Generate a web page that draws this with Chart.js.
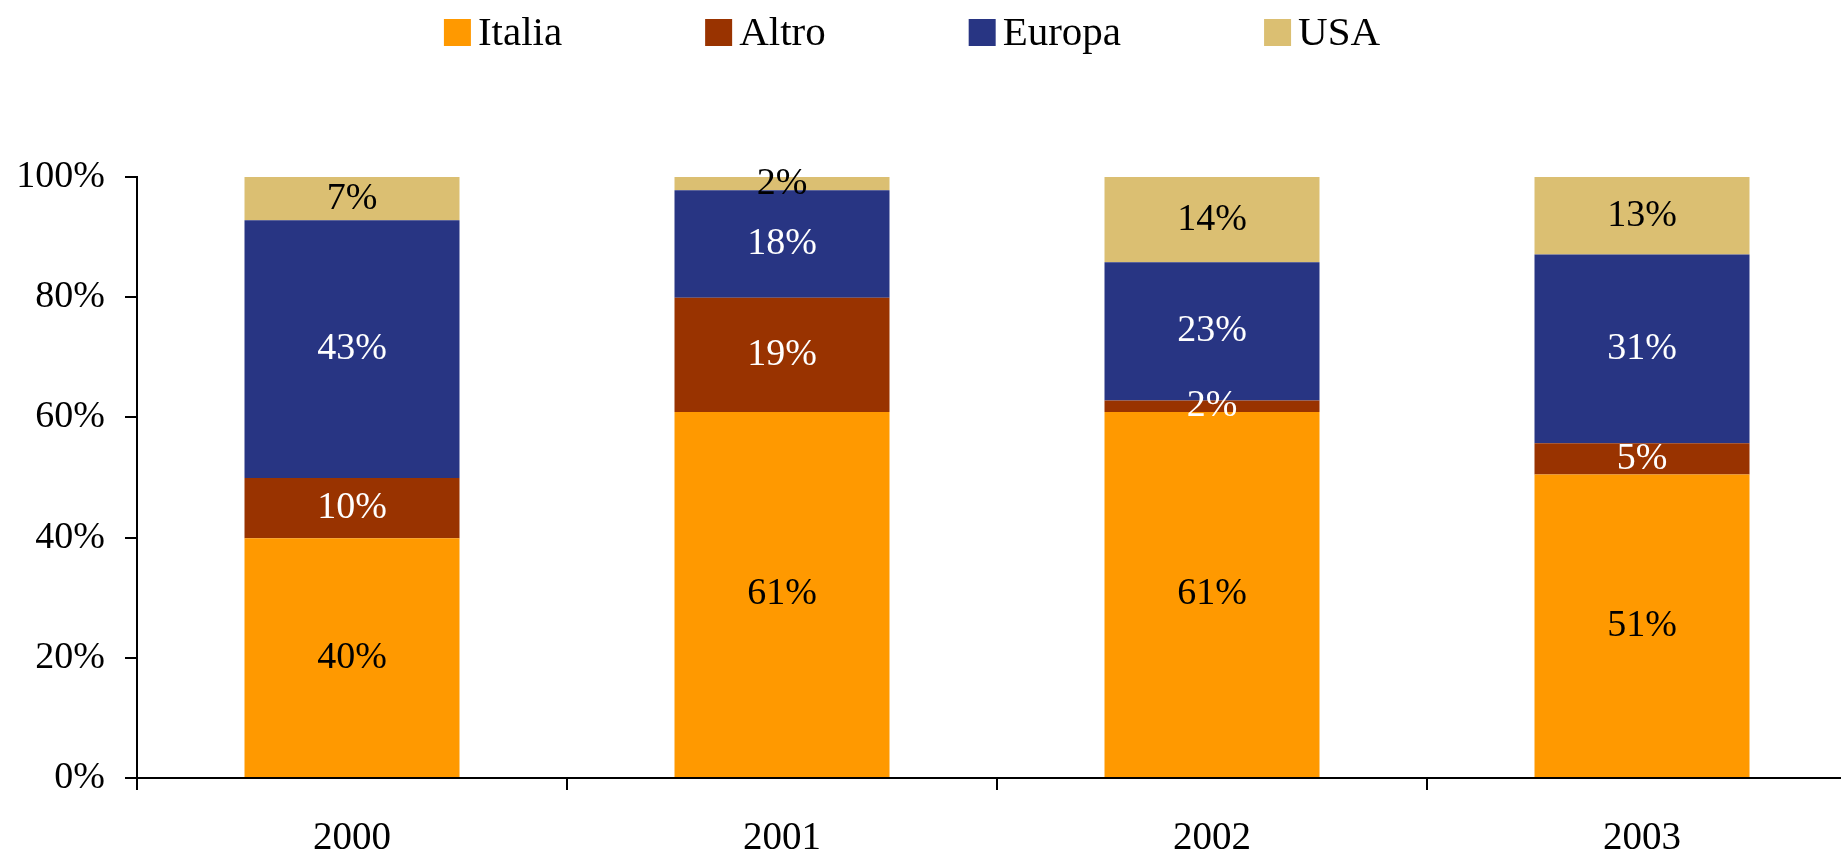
<!DOCTYPE html>
<html>
<head>
<meta charset="utf-8">
<script src="https://cdn.jsdelivr.net/npm/chart.js@4.4.0/dist/chart.umd.min.js"></script>
<style>
html, body { margin: 0; padding: 0; background: #fff; overflow: hidden; }
#wrap { width: 1860px; height: 855px; }
</style>
</head>
<body>
<div id="wrap"><canvas id="grafico" width="1860" height="855"></canvas></div>
<script>
const anni = ["2000", "2001", "2002", "2003"];
const italia = [39.9, 60.9, 60.9, 50.5];
const altro = [10.0, 19.0, 1.9, 5.2];
const europa = [42.9, 17.9, 23.0, 31.4];
const usa = [7.2, 2.2, 14.2, 12.9];
const yTicks = [0, 20, 40, 60, 80, 100];

const serie = ["Italia", "Altro", "Europa", "USA"];
const colori = ["#FF9900", "#993300", "#283583", "#DBBF72"];
const coloriTesto = ["#000", "#fff", "#fff", "#000"];
const valori = [italia, altro, europa, usa];

const FONT = "'Liberation Serif', 'Times New Roman', serif";

// legenda disegnata a mano: quadratino + testo vicino
const legenda = {
    id: "legenda",
    afterDraw(chart) {
        const ctx = chart.ctx;
        ctx.save();
        ctx.font = "41px " + FONT;
        const items = chart.data.datasets.map(ds => ({
            label: ds.label,
            color: ds.backgroundColor,
            w: 27 + 7 + ctx.measureText(ds.label).width
        }));
        const gap = 143;
        const total = items.reduce((s, it) => s + it.w, 0) + gap * (items.length - 1);
        let x = 912 - total / 2;
        ctx.textBaseline = "alphabetic";
        items.forEach(it => {
            ctx.fillStyle = it.color;
            ctx.fillRect(x, 19, 27, 27);
            ctx.fillStyle = "#000";
            ctx.fillText(it.label, x + 34, 44.5);
            x += it.w + gap;
        });
        ctx.restore();
    }
};

// etichette percentuali al centro di ogni segmento
const etichette = {
    id: "etichette",
    afterDatasetsDraw(chart) {
        const ctx = chart.ctx;
        ctx.save();
        ctx.font = "38px " + FONT;
        ctx.textAlign = "center";
        ctx.textBaseline = "middle";
        chart.data.datasets.forEach((ds, i) => {
            chart.getDatasetMeta(i).data.forEach((bar, j) => {
                ctx.fillStyle = coloriTesto[i];
                ctx.fillText(Math.round(ds.data[j]) + "%", bar.x, (bar.y + bar.base) / 2);
            });
        });
        ctx.restore();
    }
};

const ctx = document.getElementById("grafico");

new Chart(ctx, {
    type: "bar",
    data: {
        labels: anni,
        datasets: serie.map((nome, i) => ({
            label: nome,
            data: valori[i],
            backgroundColor: colori[i],
            borderWidth: 0,
            barPercentage: 0.5,
            categoryPercentage: 1.0
        }))
    },
    options: {
        responsive: false,
        animation: false,
        layout: { padding: { top: 177, left: 16, right: 3, bottom: 0 } },
        plugins: {
            legend: { display: false },
            tooltip: { enabled: false }
        },
        scales: {
            x: {
                stacked: true,
                afterFit: axis => { axis.height = 77; },
                grid: { drawOnChartArea: false, color: "#000", lineWidth: 2, tickLength: 12, offset: true },
                border: { color: "#000", width: 2 },
                ticks: { color: "#000", padding: 29, font: { family: FONT, size: 39, lineHeight: 1 } }
            },
            y: {
                stacked: true,
                min: 0,
                max: 100,
                afterBuildTicks: axis => { axis.ticks = yTicks.map(v => ({ value: v })); },
                afterFit: axis => { axis.width = 121; },
                grid: { drawOnChartArea: false, color: "#000", lineWidth: 2, tickLength: 12 },
                border: { color: "#000", width: 2 },
                ticks: {
                    color: "#000",
                    padding: 20,
                    font: { family: FONT, size: 38 },
                    callback: v => v + "%"
                }
            }
        }
    },
    plugins: [legenda, etichette]
});
</script>
</body>
</html>
